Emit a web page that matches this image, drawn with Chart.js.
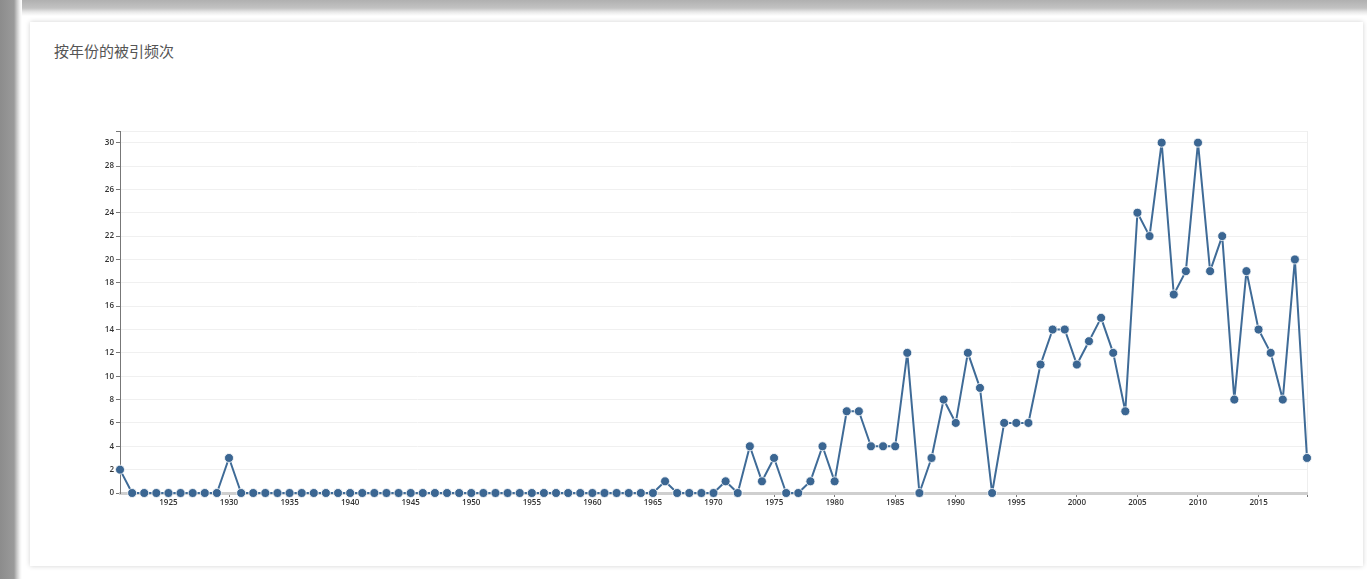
<!DOCTYPE html>
<html>
<head>
<meta charset="utf-8">
<script src="https://cdn.jsdelivr.net/npm/chart.js@4.4.0/dist/chart.umd.min.js"></script>
<style>
  html, body { margin: 0; padding: 0; background: #fff; }
  body { width: 1367px; height: 579px; position: relative; overflow: hidden; font-family: "Noto Sans CJK SC", "Noto Sans", sans-serif; }
  .frame-left { position: absolute; left: 0; top: 0; width: 22px; height: 579px;
    background: linear-gradient(to right, #8c8c8c 0, #9a9a9a 14px, #cacaca 17px, #f2f2f2 20px, #fff 22px); }
  .frame-top { position: absolute; left: 0; top: 0; width: 1367px; height: 16px;
    background: linear-gradient(to bottom, #b0b0b0 0, #c2c2c2 8px, #e8e8e8 12px, #fff 16px); }
  .card { position: absolute; left: 30px; top: 22px; width: 1333px; height: 544px; background: #fff;
    box-shadow: 0 0 5px rgba(0,0,0,0.18); }
  .title { position: absolute; left: 54px; top: 40px; font-size: 15px; color: #555; }
  .chart-box { position: absolute; left: 80px; top: 120px; width: 1250px; height: 400px; }
</style>
</head>
<body>
<div class="frame-top"></div>
<div class="frame-left"></div>
<div class="card"></div>
<div class="title">按年份的被引频次</div>
<div class="chart-box"><canvas id="citeChart"></canvas></div>

<script>
// Years 1921 - 2019
const years = [];
for (let y = 1921; y <= 2019; y++) years.push(y);

// Citations per year
const citations = [
  2, 0, 0, 0, 0, 0, 0, 0, 0, 3,            // 1921-1930
  0, 0, 0, 0, 0, 0, 0, 0, 0, 0,            // 1931-1940
  0, 0, 0, 0, 0, 0, 0, 0, 0, 0,            // 1941-1950
  0, 0, 0, 0, 0, 0, 0, 0, 0, 0,            // 1951-1960
  0, 0, 0, 0, 0, 1, 0, 0, 0, 0,            // 1961-1970
  1, 0, 4, 1, 3, 0, 0, 1, 4, 1,            // 1971-1980
  7, 7, 4, 4, 4, 12, 0, 3, 8, 6,           // 1981-1990
  12, 9, 0, 6, 6, 6, 11, 14, 14, 11,       // 1991-2000
  13, 15, 12, 7, 24, 22, 30, 17, 19, 30,   // 2001-2010
  19, 22, 8, 19, 14, 12, 8, 20, 3          // 2011-2019
];

const yTickStep = 2;
const yMax = 31;

const points = years.map((yr, i) => ({ x: yr, y: citations[i] }));

const ctx = document.getElementById('citeChart');
const citeChart = new Chart(ctx, {
  type: 'line',
  data: {
    datasets: [{
      data: points,
      borderColor: '#3f6b97',
      backgroundColor: '#3b6692',
      borderWidth: 2,
      borderJoinStyle: 'round',
      pointRadius: 4.5,
      pointBorderColor: '#fff',
      pointBorderWidth: 0.8,
      pointHoverRadius: 5,
      tension: 0,
      fill: false,
      clip: false
    }]
  },
  options: {
    responsive: true,
    maintainAspectRatio: false,
    animation: false,
    layout: { padding: { top: 11, right: 23, left: 0, bottom: 0 } },
    plugins: {
      legend: { display: false },
      tooltip: { enabled: false }
    },
    scales: {
      x: {
        type: 'linear',
        min: 1921,
        max: 2019,
        afterFit(scale) { scale.height = 27; },
        ticks: {
          stepSize: 5,
          autoSkip: false,
          maxRotation: 0,
          padding: 1,
          color: '#333',
          font: { size: 8, family: 'Open Sans', weight: '600' },
          callback: v => (v % 5 === 0 ? String(v) : '')
        },
        border: { color: '#cfcfcf', width: 3 },
        grid: {
          drawOnChartArea: true,
          color: c => (c.tick && c.tick.value === 2019 ? '#eeeeee' : 'rgba(0,0,0,0)'),
          tickColor: c => (c.tick && c.tick.value === 1921 ? 'rgba(0,0,0,0)' : '#777'),
          tickLength: 4
        }
      },
      y: {
        min: 0,
        max: yMax,
        afterFit(scale) { scale.width = 40; },
        ticks: {
          stepSize: yTickStep,
          padding: 2,
          color: '#333',
          font: { size: 8, family: 'Open Sans', weight: '600' },
          callback: v => (v % yTickStep === 0 ? String(v) : '')
        },
        border: { color: '#777', width: 1 },
        grid: {
          color: '#f0f0f0',
          lineWidth: 1,
          tickColor: '#777',
          tickLength: 4
        }
      }
    }
  }
});
</script>
</body>
</html>
